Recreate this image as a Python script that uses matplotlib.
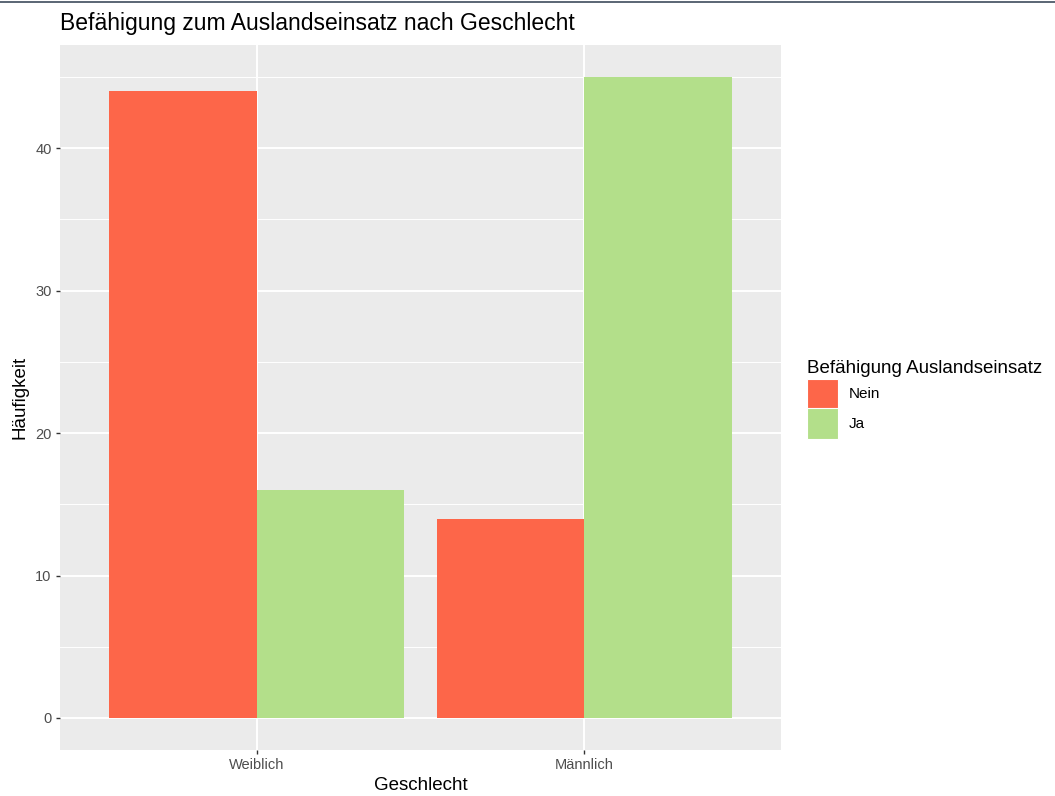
import matplotlib
matplotlib.use("Agg")
import matplotlib.pyplot as plt
from matplotlib.patches import Patch
from matplotlib.lines import Line2D
import numpy as np

plt.rcParams['font.family'] = ['Liberation Sans', 'DejaVu Sans']

categories = ["Weiblich", "Männlich"]
groups = ["Nein", "Ja"]
values_nein = [44, 14]
values_ja = [16, 45]
colors = {"Nein": "#FD6649", "Ja": "#B3DF8A"}

W, H = 1055, 796
fig = plt.figure(figsize=(W / 100, H / 100), dpi=100)
ax = fig.add_axes([60 / W, 1 - 750 / H, (781 - 60) / W, (750 - 45) / H])
ax.set_facecolor("#EBEBEB")

x = np.arange(1, len(categories) + 1)
bw = 0.45
ax.bar(x - bw / 2, values_nein, width=bw, color=colors["Nein"], zorder=3)
ax.bar(x + bw / 2, values_ja, width=bw, color=colors["Ja"], zorder=3)

ax.set_xlim(0.4, 2.6)
ax.set_ylim(-2.25, 47.25)
ax.set_xticks(x)
ax.set_xticklabels(categories)
ax.set_yticks([0, 10, 20, 30, 40])
ax.set_yticks([5, 15, 25, 35, 45], minor=True)
ax.grid(True, which="major", color="white", linewidth=1.4, zorder=0)
ax.grid(True, which="minor", axis="y", color="white", linewidth=0.7, zorder=0)
ax.set_axisbelow(True)
for s in ax.spines.values():
    s.set_visible(False)
ax.tick_params(axis="both", which="major", length=3, width=1, color="#333333",
               labelcolor="#4D4D4D", labelsize=10.5, pad=3)
ax.tick_params(axis="both", which="minor", length=0)

ax.set_xlabel("Geschlecht", fontsize=13.5, color="black", labelpad=3)
ax.set_ylabel("Häufigkeit", fontsize=13.5, color="black", labelpad=5)
ax.set_title("Befähigung zum Auslandseinsatz nach Geschlecht", fontsize=16.5,
             loc="left", x=0, pad=11, color="black")

handles = [Patch(facecolor=colors[g], edgecolor="white", linewidth=0.8) for g in groups]
leg = fig.legend(handles, groups, title="Befähigung Auslandseinsatz",
                 loc="upper left", bbox_to_anchor=(801 / W, 1 - 354 / H),
                 frameon=False, fontsize=11, title_fontsize=13.5,
                 handlelength=2.0, handleheight=2.7, handletextpad=0.75,
                 labelspacing=-0.05, borderaxespad=0)
leg._legend_box.align = "left"
leg._legend_box.sep = 1

fig.add_artist(Line2D([0, 1], [1 - 2 / H, 1 - 2 / H], color="#3E4C5C",
                      linewidth=1.2, transform=fig.transFigure))

fig.savefig("out.png", dpi=100)
